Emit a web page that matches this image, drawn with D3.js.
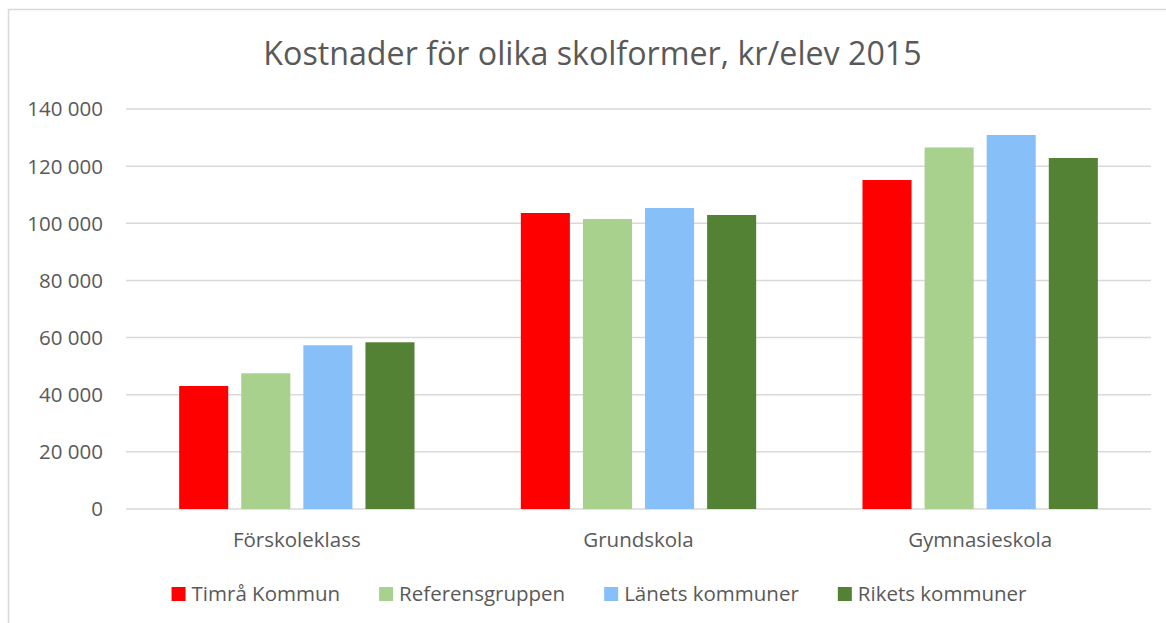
<!DOCTYPE html>
<html lang="sv">
<head>
<meta charset="utf-8">
<title>Kostnader för olika skolformer</title>
<script src="https://d3js.org/d3.v7.min.js"></script>
<style>
    body { margin: 0; background: #fff; }
    svg text { font-family: "Open Sans", Lato, sans-serif; fill: #595959; }
</style>
</head>
<body>
<div id="chart"></div>
<script>
    // data
    const categories = ["Förskoleklass", "Grundskola", "Gymnasieskola"];
    const series = ["Timrå Kommun", "Referensgruppen", "Länets kommuner", "Rikets kommuner"];
    const timra = [43050, 103600, 115150];
    const referens = [47500, 101500, 126550];
    const lanet = [57300, 105350, 130900];
    const riket = [58350, 102900, 122850];
    const yTicks = [0, 20000, 40000, 60000, 80000, 100000, 120000, 140000];
    const colors = ["#ff0000", "#a9d18e", "#87c0f8", "#548235"];

    const values = [timra, referens, lanet, riket];

    const W = 1166, H = 623;
    const margin = {top: 109, right: 15, bottom: 114, left: 126};

    const svg = d3.select("#chart").append("svg")
        .attr("width", W)
        .attr("height", H);

    svg.append("rect").attr("width", W).attr("height", H).attr("fill", "#fff");

    // chart border (cut off right and bottom in the original)
    svg.append("rect")
        .attr("x", 8.5).attr("y", 9.5)
        .attr("width", W + 20).attr("height", H + 20)
        .attr("fill", "none")
        .attr("stroke", "#d9d9d9")
        .attr("stroke-width", 1.5);

    svg.append("text")
        .attr("x", 592.5).attr("y", 65)
        .attr("text-anchor", "middle")
        .style("font-size", "32.2px")
        .text("Kostnader för olika skolformer, kr/elev 2015");

    const x0 = d3.scaleBand()
        .domain(categories)
        .range([margin.left, W - margin.right])
        .padding(0);

    const x1 = d3.scaleBand()
        .domain(d3.range(series.length))
        .range([0, x0.bandwidth()])
        .paddingInner(0.21)
        .paddingOuter(0.856);

    const y = d3.scaleLinear()
        .domain([0, 140000])
        .range([H - margin.bottom, margin.top]);

    const fmt = v => d3.format(",")(v).replace(/,/g, " ");

    // gridlines
    svg.append("g")
        .selectAll("line")
        .data(yTicks)
        .join("line")
        .attr("x1", margin.left).attr("x2", W - margin.right)
        .attr("y1", d => y(d)).attr("y2", d => y(d))
        .attr("stroke", "#d9d9d9")
        .attr("stroke-width", 1.5);

    // y tick labels
    svg.append("g")
        .selectAll("text")
        .data(yTicks)
        .join("text")
        .attr("x", 103)
        .attr("y", d => y(d))
        .attr("dy", "0.36em")
        .attr("text-anchor", "end")
        .style("font-size", "20.5px")
        .text(fmt);

    // bars
    const groups = svg.append("g")
        .selectAll("g")
        .data(categories)
        .join("g")
        .attr("transform", d => "translate(" + x0(d) + ",0)");

    groups.selectAll("rect")
        .data((c, ci) => values.map((s, si) => ({si: si, v: s[ci]})))
        .join("rect")
        .attr("x", d => x1(d.si))
        .attr("width", x1.bandwidth())
        .attr("y", d => y(d.v))
        .attr("height", d => y(0) - y(d.v))
        .attr("fill", d => colors[d.si]);

    // category labels
    svg.append("g")
        .selectAll("text")
        .data(categories)
        .join("text")
        .attr("x", d => x0(d) + x0.bandwidth() / 2)
        .attr("y", 547)
        .attr("text-anchor", "middle")
        .style("font-size", "20.5px")
        .text(d => d);

    // legend
    const legend = svg.append("g");
    let lx = 0;
    series.forEach((s, i) => {
        const item = legend.append("g").attr("transform", "translate(" + lx + ",0)");
        item.append("rect")
            .attr("x", 0).attr("y", 587)
            .attr("width", 14).attr("height", 14)
            .attr("fill", colors[i]);
        const t = item.append("text")
            .attr("x", 20).attr("y", 601)
            .style("font-size", "20.5px")
            .text(s);
        lx += 20 + t.node().getComputedTextLength() + 39;
    });
    const legW = lx - 39;
    legend.attr("transform", "translate(" + (599 - legW / 2) + ",0)");
</script>
</body>
</html>
